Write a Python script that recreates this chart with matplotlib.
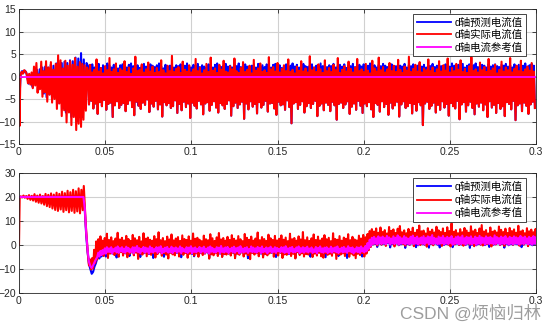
import numpy as np
import matplotlib
matplotlib.use("Agg")
import matplotlib.pyplot as plt

plt.rcParams['font.family'] = ['Liberation Sans', 'Noto Sans CJK SC', 'DejaVu Sans']

# ---- d axis: start-up part (time in ms) ----
d_meas_t0 = [0, 0.3, 0.8, 1.5, 2.2, 3.0, 3.8, 4.5, 5.2, 5.9, 6.6, 7.3, 8.0, 8.7, 9.4,
             10.1, 10.8, 11.5, 12.2, 12.9, 13.6, 14.3, 15.0, 15.7, 16.4, 17.1, 17.8, 18.5,
             19.2, 19.9, 20.6, 21.3, 22.0, 22.7, 23.4, 24.1, 24.8, 25.5, 26.2, 26.9, 27.6,
             28.3, 29.0, 29.7, 30.4, 31.1, 31.8, 32.5, 33.2, 33.9, 34.6, 35.3, 36.0, 36.7,
             37.4, 38.1, 38.8, 39.5]
d_meas_start = [0, -11.0, 0.4, 1.0, 0.6, 1.4, 1.1, 0.5, -1.5, 0.6, -1.8, 0.9, -2.6, 2.2, -2.0,
                3.0, -3.6, 0.5, -2.8, 3.3, -4.5, 1.2, -3.5, 3.4, -5.6, 2.0, -4.0, 3.2,
                -5.8, 1.5, -5.0, 2.8, -7.2, 4.7, -6.0, 3.6, -8.8, 1.8, -7.5, 3.5, -10.2,
                2.4, -8.0, 3.4, -10.8, 2.6, -9.0, 4.1, -11.9, 2.2, -10.5, 3.2, -11.2, 2.8,
                -9.6, 2.5, -7.6, 2.0]
d_pred_t0 = [0, 0.5, 1.0, 1.8, 2.6, 3.4, 4.2, 5.0, 5.6, 6.4, 7.2, 8.0, 8.8, 9.6, 10.4,
             11.2, 12.0, 12.8, 13.6, 14.4, 15.2, 16.0, 16.8, 17.6, 18.4, 19.2, 20.0, 20.8,
             21.6, 22.4, 23.2, 24.0, 24.8, 25.6, 26.4, 27.2, 28.0, 28.8, 29.6, 30.4, 31.2,
             32.0, 32.8, 33.6, 34.4, 35.2, 36.0, 36.8, 37.6, 38.4, 39.2]
d_pred_start = [0, -3.0, 0.6, 1.2, 0.8, 1.3, 0.9, -0.5, -1.6, 0.2, -1.2, -2.4, 1.0, -1.5, 1.5,
                -3.0, 1.6, -2.6, 2.0, -3.8, 2.2, -4.6, 2.0, -4.0, 2.6, -5.0, 2.4, -4.6,
                2.9, -6.0, 2.6, -5.5, 3.0, -7.0, 3.3, -8.0, 3.0, -7.5, 3.6, -9.0, 3.4,
                -8.5, 4.2, -10.0, 4.0, -9.0, 5.2, -9.0, 3.8, -7.0, 3.0]

# ---- d axis: running part, peaks and troughs every 1.25 ms from 40 ms ----
d_meas_hi = [
    1.2, 2.6, 0.9, 1.5, 3.8, 1.1, 1.9, 0.7, 2.3, 1.4, 4.1, 1.0, 1.6, 2.9, 0.8, 1.7,
    1.3, 3.4, 1.0, 2.0, 0.6, 1.8, 4.4, 1.2, 1.5, 2.7, 0.9, 1.6, 3.1, 1.1, 2.2, 0.8,
    1.9, 1.0, 3.6, 1.4, 0.7, 2.4, 1.2, 4.6, 1.0, 1.7, 2.1, 0.8, 3.3, 1.5, 1.1, 2.5,
    0.9, 1.6, 3.9, 1.2, 2.0, 0.7, 1.4, 2.8, 1.0, 4.2, 1.3, 1.8, 0.8, 2.6, 1.5, 3.5,
    1.1, 0.9, 2.3, 1.6, 4.0, 1.2, 0.8, 1.9, 3.2, 1.0, 1.5, 2.4, 0.7, 3.7, 1.3, 1.8,
    2.9, 1.0, 1.4, 0.8, 4.3, 1.6, 2.1, 1.1, 3.0, 0.9, 1.7, 2.5, 1.2, 3.8, 1.0, 1.5,
    0.7, 2.2, 1.3, 3.4, 1.1, 1.8, 0.9, 4.5, 1.4, 2.0, 1.0, 2.7, 1.6, 0.8, 3.6, 1.2,
    1.9, 1.0, 2.6, 1.4, 4.1, 0.8, 1.5, 2.3, 1.1, 3.3, 1.7, 0.9, 2.0, 3.9, 1.2, 1.6,
    1.0, 2.8, 1.3, 0.7, 3.5, 1.8, 1.1, 4.2, 1.4, 2.1, 0.9, 1.6, 3.0, 1.2, 2.4, 1.0,
    3.7, 1.5, 0.8, 2.2, 1.3, 4.4, 1.0, 1.7, 2.6, 1.1, 3.2, 0.9, 1.8, 1.4, 3.8, 1.2,
    2.0, 0.8, 1.6, 3.4, 1.1, 2.5, 1.3, 4.0, 0.9, 1.9, 1.2, 2.8, 1.5, 3.6, 1.0, 1.7,
    0.8, 2.3, 4.3, 1.2, 1.6, 0.9, 3.1, 1.4, 2.1, 1.0, 3.9, 1.3, 1.8, 2.6, 0.7, 1.5,
    3.3, 1.1, 2.0, 1.4, 4.1, 0.9, 1.7, 2.4, 1.2, 3.5, 1.0, 1.6, 2.2, 1.3, 3.0, 1.1]
d_meas_lo = [
    -6.2, -5.4, -7.1, -6.0, -8.3, -5.7, -6.6, -5.2, -7.4, -6.1, -5.8, -9.0, -6.4, -5.5, -7.0, -6.3,
    -5.9, -7.7, -6.1, -5.3, -6.8, -8.6, -5.6, -6.5, -7.2, -5.8, -6.3, -5.1, -7.9, -6.0, -6.7, -5.4,
    -7.3, -6.2, -8.9, -5.7, -6.4, -5.9, -7.0, -6.6, -5.3, -8.1, -6.1, -7.5, -5.6, -6.8, -6.0, -9.2,
    -5.8, -6.5, -7.1, -5.4, -6.2, -8.4, -6.0, -5.7, -7.6, -6.3, -5.5, -6.9, -8.0, -5.9, -6.4, -7.2,
    -6.1, -5.3, -8.7, -6.6, -5.8, -7.0, -6.2, -5.6, -9.4, -6.0, -7.3, -5.5, -6.7, -6.1, -8.2, -5.7,
    -6.9, -6.3, -5.4, -7.8, -6.0, -5.9, -7.1, -8.5, -5.6, -6.4, -6.2, -7.4, -5.3, -6.8, -10.4, -6.0,
    -5.7, -7.2, -6.3, -5.5, -8.0, -6.6, -5.9, -7.0, -6.1, -5.4, -8.8, -6.5, -6.0, -7.5, -5.8, -6.3,
    -7.7, -5.6, -6.4, -9.6, -6.1, -5.8, -7.0, -6.2, -5.5, -8.3, -6.7, -6.0, -7.4, -5.4, -6.5, -8.1,
    -6.0, -6.6, -5.7, -7.3, -9.0, -5.9, -6.3, -7.8, -5.5, -6.8, -6.1, -8.5, -5.8, -7.1, -6.4, -5.6,
    -8.9, -6.2, -5.5, -7.0, -6.6, -5.9, -8.2, -6.1, -7.6, -5.7, -6.4, -10.8, -6.0, -5.6, -7.2, -6.5,
    -5.8, -8.0, -6.3, -7.4, -5.5, -6.9, -6.1, -8.7, -5.9, -6.6, -7.1, -5.4, -9.5, -6.2, -5.7, -7.8,
    -6.4, -5.6, -7.0, -8.4, -6.0, -6.7, -5.8, -7.5, -6.2, -9.0, -5.5, -6.9, -6.3, -8.1, -5.9, -7.2,
    -6.6, -8.8, -5.7, -6.1, -7.3, -5.4, -9.7, -6.4, -6.0, -7.7, -5.8, -6.5, -8.3, -6.2, -5.6, -7.0]
d_pred_hi = [
    2.4, 2.1, 2.7, 2.0, 2.3, 2.8, 1.9, 2.5, 2.2, 2.9, 2.4, 2.0, 2.6, 2.3, 1.8, 2.5,
    2.7, 2.2, 2.0, 2.6, 2.9, 2.3, 2.1, 2.5, 1.9, 2.4, 2.8, 2.2, 2.0, 2.7, 2.4, 2.1,
    2.5, 2.9, 2.3, 1.8, 2.6, 2.2, 2.4, 2.8, 2.0, 2.5, 2.3, 2.7, 2.1, 2.4, 2.9, 2.2,
    2.0, 2.6, 2.3, 2.8, 2.1, 2.5, 2.2, 1.9, 2.7, 2.4, 2.0, 2.6, 2.9, 2.3, 2.1, 2.5,
    2.8, 2.2, 2.4, 2.0, 2.6, 2.3, 2.9, 2.1, 2.5, 2.7, 2.2, 1.9, 2.4, 2.6, 2.0, 2.8,
    2.3, 2.5, 2.1, 2.7, 2.4, 2.0, 2.6, 2.8, 2.2, 2.5, 1.9, 2.3, 2.7, 2.1, 2.4, 2.9,
    2.2, 2.6, 2.0, 2.4, 2.8, 2.3, 2.1, 2.5, 2.7, 2.0, 2.4, 2.2, 2.9, 2.3, 2.6, 2.1,
    2.5, 2.3, 2.8, 2.0, 2.4, 2.6, 2.2, 2.7, 1.9, 2.5, 2.3, 2.8, 2.1, 2.4, 2.6, 2.2,
    2.7, 2.1, 2.4, 2.9, 2.2, 2.5, 2.0, 2.6, 2.3, 2.8, 2.4, 2.1, 2.5, 2.7, 2.0, 2.3,
    2.6, 2.4, 2.2, 2.8, 2.0, 2.5, 2.3, 2.7, 2.1, 2.4, 2.9, 2.2, 2.6, 2.0, 2.5, 2.3,
    2.8, 2.1, 2.4, 2.6, 2.3, 2.0, 2.7, 2.5, 2.2, 2.9, 2.4, 2.1, 2.6, 2.3, 2.8, 2.0,
    2.4, 2.7, 2.2, 2.5, 2.9, 2.1, 2.3, 2.6, 2.4, 2.0, 2.8, 2.2, 2.5, 2.7, 2.3, 2.1,
    2.6, 2.4, 2.8, 2.2, 2.5, 2.0, 2.7, 2.3, 2.6, 2.1, 2.4, 2.9, 2.2, 2.5, 2.8, 2.4]
# troughs of the predicted d current sit under the measured ones
d_pred_lo = d_meas_lo

# d reference is held at zero
d_ref_t = [0.0, 0.3]
d_ref = [0.0, 0.0]

# ---- q axis: start-up part (time in ms) ----
q_meas_t0 = [0, 0.4, 1.0, 1.8, 2.6, 3.4, 4.2, 5.0, 5.8, 6.6, 7.4, 8.2, 9.0, 9.8, 10.6,
             11.4, 12.2, 13.0, 13.8, 14.6, 15.4, 16.2, 17.0, 17.8, 18.6, 19.4, 20.2, 21.0,
             21.8, 22.6, 23.4, 24.2, 25.0, 25.8, 26.6, 27.4, 28.2, 29.0, 29.8, 30.6, 31.4,
             32.2, 33.0, 33.8, 34.6, 35.4, 36.2, 37.0, 37.6, 38.2, 38.8, 39.4, 40.0, 40.6,
             41.2, 41.8, 42.4, 43.0, 43.6, 44.2, 44.8, 45.4]
q_meas_start = [0, 19.6, 20.3, 19.8, 20.6, 19.7, 20.4, 19.2, 20.8, 18.8, 20.5, 18.5, 21.2, 18.0, 20.6,
                17.6, 21.0, 17.3, 20.4, 16.8, 21.3, 16.2, 20.9, 15.8, 21.5, 15.2, 21.0, 14.6,
                21.8, 14.2, 21.3, 14.8, 22.2, 13.8, 21.6, 14.5, 22.6, 13.6, 22.0, 14.2, 23.0,
                13.4, 22.4, 14.0, 23.6, 13.2, 23.0, 14.5, 24.6, 16.0, 8.0, 2.0, -4.0, -8.5,
                -6.0, -10.2, -5.5, -9.8, -2.0, -7.5, 1.5, -6.0]
q_ref_t0 = [0, 37.4, 38.2, 39.0, 39.8, 40.6, 41.4, 42.2, 43.0, 43.8, 44.6, 45.4]
q_ref_start = [20.0, 20.0, 15.0, 5.0, -2.0, -7.0, -8.8, -9.6, -8.5, -7.2, -6.0, -5.0]
q_pred_start = [20.0, 20.2, 14.0, 4.0, -3.0, -8.0, -10.0, -12.0, -11.2, -9.0, -7.6, -5.5]

# ---- q axis: running part, peaks and troughs every 1.25 ms from 46 ms ----
q_meas_hi = [
    2.4, 3.6, 1.8, 2.9, 4.7, 2.1, 3.2, 1.6, 2.7, 5.1, 2.3, 3.0,
    1.9, 3.8, 2.5, 1.7, 4.2, 2.8, 2.0, 3.4, 1.5, 4.9, 2.6, 3.1,
    2.2, 1.8, 3.7, 2.4, 5.3, 2.0, 2.9, 1.6, 3.5, 2.3, 4.4, 1.9,
    2.7, 3.3, 1.7, 4.0, 2.5, 2.1, 3.6, 1.8, 4.8, 2.6, 3.0, 2.2,
    1.6, 3.9, 2.4, 2.0, 4.5, 2.8, 1.7, 3.2, 5.0, 2.3, 2.9, 1.8,
    3.4, 2.1, 4.1, 2.6, 1.9, 3.7, 2.4, 1.6, 4.6, 3.0, 2.2, 3.5,
    1.8, 2.7, 5.2, 2.0, 3.3, 2.5, 1.7, 4.3, 2.8, 2.1, 3.8, 1.9,
    2.6, 4.0, 2.2, 3.1, 1.6, 4.7, 2.4, 2.9, 1.8, 3.6, 2.3, 5.4,
    2.0, 3.2, 1.7, 2.8, 4.4, 2.1, 3.5, 1.9, 2.7, 4.1, 2.4, 3.0,
    1.6, 4.9, 2.5, 2.2, 3.7, 1.8, 3.1, 2.6, 4.5, 2.0, 3.4, 2.3,
    1.9, 3.9, 2.7, 4.2, 3.2, 4.6, 5.8, 6.6, 5.6, 6.9, 5.1, 7.3,
    5.4, 6.2, 4.8, 7.5, 5.9, 6.5, 5.0, 6.8, 7.9, 5.3, 6.1, 4.9,
    6.7, 5.5, 7.2, 5.1, 6.3, 8.1, 5.7, 6.0, 4.8, 7.0, 5.6, 6.4,
    5.2, 7.6, 6.1, 5.4, 6.9, 5.0, 7.4, 5.8, 9.0, 5.5, 6.2, 4.9,
    6.6, 5.3, 7.1, 6.0, 5.1, 7.8, 5.7, 6.4, 5.0, 6.9, 8.3, 5.6,
    6.2, 4.8, 7.3, 5.5, 6.0, 5.2, 7.7, 6.3, 5.4, 6.8, 5.0, 7.1,
    5.8, 6.5, 5.1, 8.0, 5.6, 6.1, 4.9, 7.0, 5.7, 6.4, 5.3, 6.7]
q_meas_lo = [
    -3.8, -2.9, -4.6, -3.3, -5.4, -3.6, -2.8, -4.2, -3.5, -4.9, -3.0, -4.4,
    -3.4, -5.1, -3.7, -2.9, -4.3, -3.2, -5.8, -3.6, -4.0, -3.1, -4.7, -3.5,
    -4.1, -3.3, -5.2, -3.8, -2.9, -4.5, -3.4, -4.0, -5.6, -3.2, -3.9, -4.3,
    -3.0, -4.8, -3.6, -4.1, -3.3, -5.3, -3.7, -2.9, -4.4, -3.5, -4.9, -3.2,
    -4.2, -3.6, -3.0, -5.7, -3.9, -4.3, -3.4, -4.6, -3.1, -5.0, -3.8, -4.0,
    -3.5, -4.4, -3.2, -5.5, -3.7, -4.1, -3.0, -4.8, -3.6, -4.2, -5.9, -3.3,
    -4.0, -3.4, -4.7, -3.1, -5.2, -3.8, -4.3, -3.5, -3.0, -4.9, -3.6, -4.4,
    -3.2, -5.4, -3.9, -4.1, -3.3, -4.6, -3.7, -5.6, -3.0, -4.2, -3.5, -4.8,
    -3.8, -4.0, -3.1, -5.0, -3.6, -4.4, -3.3, -4.7, -5.3, -3.4, -4.1, -3.7,
    -4.5, -3.2, -5.8, -3.9, -4.0, -3.5, -4.6, -3.1, -4.9, -3.6, -4.3, -5.5,
    -3.7, -4.2, -3.4, -4.8, -3.6, -2.2, -0.8, 0.3, 0.6, -0.2, 0.9, 0.2,
    0.8, -0.4, 1.1, 0.3, 0.7, -0.6, 0.9, 0.1, 1.2, 0.4, -0.3, 0.8,
    0.2, 1.0, -0.5, 0.6, 0.9, 0.0, 1.3, 0.3, -0.7, 0.7, 0.5, -0.1,
    1.1, 0.4, 0.8, -0.4, 0.6, 1.0, 0.2, -0.6, 0.9, 0.3, 1.2, 0.0,
    0.5, -0.3, 0.9, 0.7, 0.1, 1.1, -0.5, 0.6, 0.8, 0.2, -0.2, 1.0,
    0.4, 0.9, -0.6, 0.7, 0.3, 1.2, 0.0, 0.6, -0.4, 0.8, 0.5, 1.0,
    0.1, 0.7, 1.1, -0.3, 0.6, 0.2, 0.9, -0.5, 0.8, 0.4, 1.0, 0.3]
q_ref_hi = [
    -3.2, -2.5, -2.1, -1.4, -0.9, -1.4, -0.9, -1.7, -1.1, -0.6, -1.3, -0.9,
    -1.5, -0.7, -1.2, -1.8, -0.9, -1.0, -0.4, -1.3, -1.6, -0.8, -1.1, -1.4,
    -0.6, -1.2, -1.7, -0.9, -1.0, -0.5, -1.5, -1.1, -0.8, -1.6, -0.7, -1.3,
    -1.0, -1.4, -0.6, -1.2, -1.8, -0.9, -1.1, -0.5, -1.3, -1.0, -1.6, -0.8,
    -1.3, -0.7, -1.5, -1.0, -0.6, -1.2, -1.7, -0.9, -1.1, -0.4, -1.4, -1.0,
    -0.8, -1.6, -1.1, -0.7, -1.3, -1.0, -0.5, -1.5, -1.2, -0.9, -1.7, -0.6,
    -1.1, -1.4, -0.8, -1.2, -0.6, -1.6, -1.0, -1.3, -0.7, -1.5, -0.9, -1.2,
    -1.6, -0.9, -1.0, -0.5, -1.4, -1.1, -0.8, -1.7, -1.0, -0.6, -1.3, -0.9,
    -1.2, -0.7, -1.5, -1.0, -1.8, -0.8, -1.2, -0.6, -1.4, -1.1, -0.9, -1.5,
    -0.7, -1.3, -1.0, -0.6, -1.6, -1.1, -0.8, -1.4, -0.5, -1.2, -1.0, -1.7,
    -0.9, -1.1, -0.6, -1.3, -0.4, 0.8, 2.2, 3.0, 3.4, 2.8, 3.6, 3.1,
    3.5, 2.9, 3.8, 3.2, 2.7, 3.6, 3.0, 4.0, 3.3, 2.8, 3.7, 3.1,
    2.6, 3.4, 3.9, 3.0, 3.5, 2.8, 3.2, 3.7, 2.9, 3.6, 3.3, 4.1,
    3.0, 2.7, 3.5, 3.1, 3.8, 2.9, 3.4, 3.0, 3.7, 2.6, 3.3, 3.6,
    3.2, 3.9, 2.8, 3.4, 3.1, 3.6, 2.7, 3.5, 3.0, 3.8, 3.2, 2.9,
    3.6, 3.1, 3.4, 2.8, 4.0, 3.3, 2.9, 3.5, 3.1, 3.7, 2.7, 3.4,
    3.0, 3.6, 3.2, 2.9, 3.8, 3.1, 3.5, 2.8, 3.4, 3.0, 3.7, 3.2]
q_ref_lo = [
    -4.8, -4.2, -3.7, -3.6, -2.9, -3.0, -3.5, -2.6, -3.1, -3.3, -2.7, -3.0,
    -3.3, -2.6, -3.1, -2.9, -3.5, -2.7, -3.0, -3.4, -2.5, -3.2, -2.8, -3.6,
    -2.9, -3.1, -2.6, -3.3, -2.8, -3.5, -3.0, -2.7, -3.2, -2.9, -3.4, -2.6,
    -3.1, -2.8, -3.4, -2.6, -3.0, -3.3, -2.7, -3.5, -2.9, -3.1, -2.5, -3.2,
    -2.7, -3.3, -2.9, -3.6, -2.8, -3.0, -3.2, -2.6, -3.4, -2.9, -3.1, -2.8,
    -3.4, -2.7, -3.0, -3.2, -2.6, -3.5, -2.9, -3.1, -2.8, -3.3, -2.7, -3.0,
    -2.9, -3.2, -2.6, -3.4, -3.0, -2.8, -3.5, -2.7, -3.1, -2.9, -3.3, -2.6,
    -3.0, -2.8, -3.3, -2.9, -3.6, -2.7, -3.1, -3.0, -2.6, -3.4, -2.9, -3.2,
    -2.8, -3.1, -2.7, -3.3, -2.9, -3.5, -2.6, -3.0, -3.2, -2.8, -3.4, -2.9,
    -3.2, -2.7, -3.0, -3.4, -2.8, -3.1, -2.9, -3.3, -2.6, -3.0, -3.5, -2.8,
    -3.0, -3.3, -2.7, -3.1, -2.6, -1.6, -0.4, 0.4, 0.6, 0.2, 0.8, 0.4,
    0.7, 0.3, 0.9, 0.2, 0.6, 0.4, 0.8, 0.1, 0.5, 0.7, 0.3, 0.6,
    0.2, 0.8, 0.4, 0.6, 0.1, 0.7, 0.5, 0.3, 0.9, 0.2, 0.6, 0.4,
    0.8, 0.3, 0.5, 0.7, 0.2, 0.6, 0.4, 0.9, 0.1, 0.5, 0.7, 0.3,
    0.4, 0.6, 0.2, 0.8, 0.5, 0.3, 0.7, 0.1, 0.6, 0.4, 0.9, 0.2,
    0.6, 0.4, 0.7, 0.3, 0.5, 0.8, 0.2, 0.6, 0.4, 0.7, 0.1, 0.5,
    0.3, 0.7, 0.5, 0.2, 0.6, 0.4, 0.8, 0.3, 0.5, 0.1, 0.7, 0.4]
# predicted q current: peaks hidden under the reference, troughs dip a little lower
q_pred_hi = q_ref_hi
q_pred_lo = [
    -5.6, -4.8, -4.0, -4.8, -3.1, -3.2, -3.6, -2.8, -5.2, -3.4, -2.9, -3.2,
    -3.5, -2.8, -4.6, -3.1, -3.6, -2.9, -3.2, -5.0, -2.7, -3.4, -3.0, -3.8,
    -3.1, -5.4, -2.8, -3.5, -3.0, -3.6, -4.9, -2.9, -3.4, -3.1, -3.5, -2.8,
    -3.3, -3.0, -5.1, -2.8, -3.2, -3.5, -2.9, -3.7, -4.7, -3.3, -2.7, -3.4,
    -2.9, -3.5, -3.1, -5.3, -3.0, -3.2, -3.4, -2.8, -3.6, -4.8, -3.3, -3.0,
    -3.6, -2.9, -3.2, -4.9, -2.8, -3.7, -3.1, -3.3, -3.0, -5.5, -2.9, -3.2,
    -3.1, -3.4, -2.8, -3.6, -4.6, -3.0, -3.7, -2.9, -3.3, -3.1, -5.0, -2.8,
    -3.2, -4.7, -3.5, -3.1, -3.8, -2.9, -3.3, -5.3, -2.8, -3.6, -3.1, -3.4,
    -3.0, -3.3, -4.9, -3.5, -3.1, -3.7, -2.8, -3.2, -3.4, -5.1, -3.6, -3.1,
    -3.4, -2.9, -3.2, -4.6, -3.0, -3.3, -3.1, -5.4, -2.8, -3.2, -3.7, -3.0,
    -3.2, -3.5, -4.8, -3.3, -2.8, -1.8, -0.6, 0.2, 0.4, -0.8, 0.6, 0.2,
    0.5, 0.1, 0.7, -1.0, 0.4, 0.2, 0.6, -0.1, 0.3, 0.5, -1.2, 0.4,
    0.0, 0.6, 0.2, -0.9, -0.1, 0.5, 0.3, 0.1, 0.7, -1.1, 0.4, 0.2,
    0.6, 0.1, -1.0, 0.5, 0.0, 0.4, 0.2, 0.7, -0.9, 0.3, 0.5, 0.1,
    0.2, 0.4, 0.0, 0.6, -1.2, 0.1, 0.5, -0.1, 0.4, 0.2, 0.7, 0.0,
    0.4, -0.8, 0.5, 0.1, 0.3, 0.6, 0.0, 0.4, -1.1, 0.5, -0.1, 0.3,
    0.1, 0.5, 0.3, 0.0, -0.9, 0.2, 0.6, 0.1, 0.3, -0.1, 0.5, 0.2]

STEP = 0.00125


def zigzag(t_start_ms, v_start, t0, hi, lo):
    """start-up samples followed by alternating peak / trough samples"""
    n = min(len(hi), len(lo))
    t = t0 + STEP * np.arange(n)
    tt = np.column_stack([t, t + STEP / 2]).ravel()
    vv = np.column_stack([hi[:n], lo[:n]]).ravel()
    return (np.concatenate([np.array(t_start_ms) / 1000.0, tt]),
            np.concatenate([v_start, vv]))


blue, red, pink = '#0000ff', '#ff0000', '#ff00ff'
lw = 1.5

fig = plt.figure(figsize=(5.54, 3.29), dpi=100)
ax1 = fig.add_axes([19 / 554, 1 - 144 / 329, 517 / 554, 135 / 329])
ax2 = fig.add_axes([19 / 554, 1 - 293 / 329, 517 / 554, 120 / 329])

# d axis
t, v = zigzag(d_pred_t0, d_pred_start, 0.040, d_pred_hi, d_pred_lo)
ax1.plot(t, v, color=blue, lw=lw, label='d轴预测电流值')
t, v = zigzag(d_meas_t0, d_meas_start, 0.040, d_meas_hi, d_meas_lo)
ax1.plot(t, v, color=red, lw=lw, label='d轴实际电流值')
ax1.plot(d_ref_t, d_ref, color=pink, lw=1.3, label='d轴电流参考值')

# q axis
t, v = zigzag(q_ref_t0, q_pred_start, 0.046, q_pred_hi, q_pred_lo)
ax2.plot(t, v, color=blue, lw=lw, label='q轴预测电流值')
t, v = zigzag(q_meas_t0, q_meas_start, 0.046, q_meas_hi, q_meas_lo)
ax2.plot(t, v, color=red, lw=lw, label='q轴实际电流值')
t, v = zigzag(q_ref_t0, q_ref_start, 0.046, q_ref_hi, q_ref_lo)
ax2.plot(t, v, color=pink, lw=lw, label='q轴电流参考值')

xticks = [0, 0.05, 0.1, 0.15, 0.2, 0.25, 0.3]
xlabels = ['0', '0.05', '0.1', '0.15', '0.2', '0.25', '0.3']
for ax, ylim, yticks in [(ax1, (-15, 15), range(-15, 16, 5)),
                         (ax2, (-20, 30), range(-20, 31, 10))]:
    ax.set_xlim(0, 0.3)
    ax.set_ylim(*ylim)
    ax.set_xticks(xticks)
    ax.set_xticklabels(xlabels)
    ax.set_yticks(list(yticks))
    ax.grid(True, color='#d0d0d0', lw=0.8)
    ax.set_axisbelow(True)
    ax.tick_params(direction='in', top=True, right=True, length=3, width=0.6,
                   labelsize=7.5, pad=2, colors='#262626')
    for s in ax.spines.values():
        s.set_linewidth(0.6)
        s.set_color('#262626')
    leg = ax.legend(loc='upper right', bbox_to_anchor=(0.981, 0.96),
                    prop={'family': ['Liberation Sans', 'Noto Sans CJK SC'], 'size': 7.5},
                    fancybox=False, framealpha=1, edgecolor='#262626',
                    handlelength=3.3, handletextpad=0.4, borderpad=0.3,
                    labelspacing=0.2, borderaxespad=0)
    leg.get_frame().set_linewidth(0.6)
    for line in leg.get_lines():
        line.set_linewidth(1.3)

fig.text(0.977, 0.022, 'CSDN @烦恼归林', ha='right', va='bottom', fontsize=12.5,
         color='#8c8c8c', alpha=0.85, family=['Liberation Sans', 'Noto Sans CJK SC'])

fig.savefig('out.png', dpi=100)
